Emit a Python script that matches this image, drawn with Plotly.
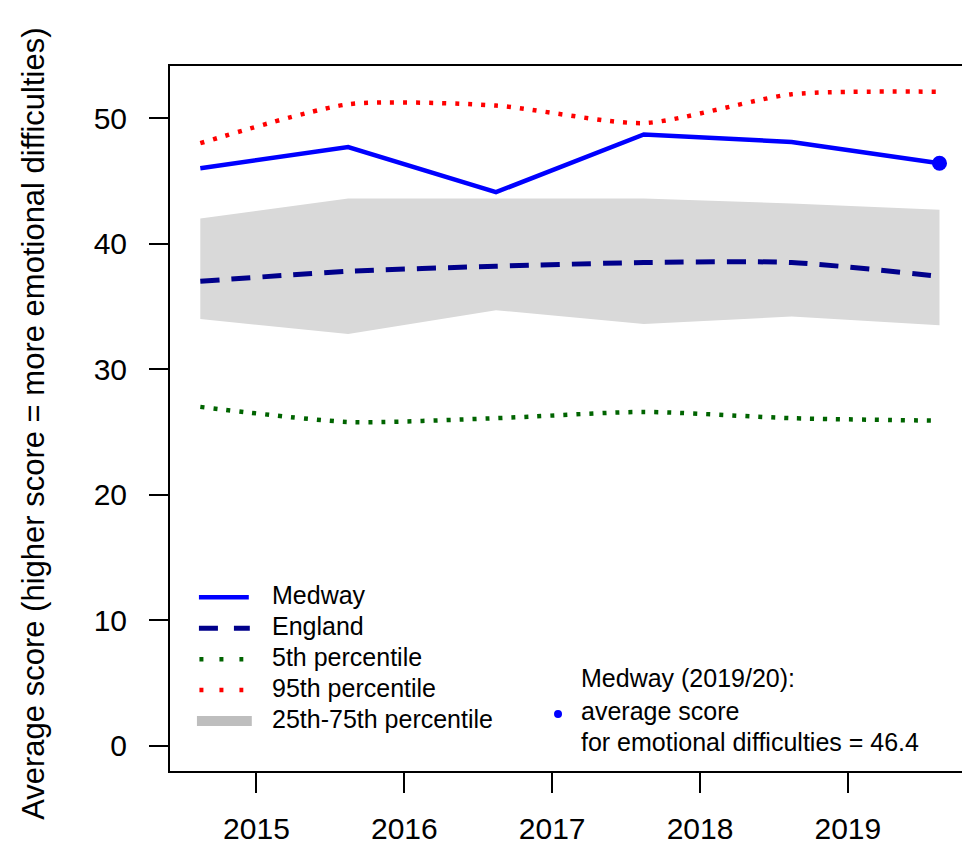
import plotly.graph_objects as go

# ---------------- data ----------------
years = [2014.62, 2015.62, 2016.62, 2017.62, 2018.62, 2019.62]
medway = [46.0, 47.7, 44.1, 48.7, 48.1, 46.4]
england = [37.0, 37.8, 38.2, 38.5, 38.5, 37.4]
p25 = [34.0, 32.8, 34.7, 33.6, 34.2, 33.5]
p75 = [42.0, 43.6, 43.6, 43.6, 43.2, 42.7]
p5 = [27.0, 25.8, 26.1, 26.6, 26.1, 25.9]
p95 = [48.0, 51.1, 51.0, 49.6, 51.9, 52.1]
x_ticks = [2015, 2016, 2017, 2018, 2019]
y_ticks = [0, 10, 20, 30, 40, 50]
legend_labels = ["Medway", "England", "5th percentile", "95th percentile", "25th-75th percentile"]
note_lines = ["Medway (2019/20):", "average score", "for emotional difficulties = 46.4"]

FONT = "Arial, Liberation Sans, sans-serif"
OFF = 8  # page body margin
W, H = 970 - OFF, 846 - OFF
ML, MR, MT, MB = 170 - OFF, 1, 66 - OFF, 74
PW, PH = W - ML - MR, H - MT - MB
SMOOTH = 0.65


def px(x):
    return (x - OFF - ML) / PW


def py(y):
    return (H - MB - (y - OFF)) / PH


fig = go.Figure()

# ribbon 25th-75th
fig.add_trace(go.Scatter(x=years, y=p25, mode="lines", line=dict(width=0, color="#D9D9D9"),
                         showlegend=False, hoverinfo="skip"))
fig.add_trace(go.Scatter(x=years, y=p75, mode="lines", line=dict(width=0, color="#D9D9D9"),
                         fill="tonexty", fillcolor="#D9D9D9", showlegend=False))

# percentiles
fig.add_trace(go.Scatter(x=years, y=p5, mode="lines",
                         line=dict(color="#006400", width=4.5, dash="4px,9px", shape="spline", smoothing=SMOOTH),
                         showlegend=False))
fig.add_trace(go.Scatter(x=years, y=p95, mode="lines",
                         line=dict(color="#FF0000", width=4.5, dash="4px,9px", shape="spline", smoothing=SMOOTH),
                         showlegend=False))
# England
fig.add_trace(go.Scatter(x=years, y=england, mode="lines",
                         line=dict(color="#00008B", width=5, dash="19px,12px", shape="spline", smoothing=SMOOTH),
                         showlegend=False))
# Medway
fig.add_trace(go.Scatter(x=years, y=medway, mode="lines",
                         line=dict(color="#0000FF", width=4.5), showlegend=False))
fig.add_trace(go.Scatter(x=[years[-1]], y=[medway[-1]], mode="markers",
                         marker=dict(color="#0000FF", size=15), showlegend=False))

shapes = []
annotations = []

# manual legend
leg_y = [598, 629, 660, 691, 722]
leg_styles = [
    dict(color="#0000FF", width=4.5, dash="solid", x0=199, x1=249),
    dict(color="#00008B", width=5, dash="19px,16px", x0=199, x1=250),
    dict(color="#006400", width=4.5, dash="4px,16px", x0=199.5, x1=243.5),
    dict(color="#FF0000", width=4.5, dash="4px,16px", x0=199.5, x1=243.5),
    dict(color="#BEBEBE", width=10, dash="solid", x0=197, x1=252),
]
for yy, st, lab in zip(leg_y, leg_styles, legend_labels):
    shapes.append(dict(type="line", xref="paper", yref="paper",
                       x0=px(st["x0"]), x1=px(st["x1"]), y0=py(yy), y1=py(yy),
                       line=dict(color=st["color"], width=st["width"], dash=st["dash"])))
    annotations.append(dict(text=lab, xref="paper", yref="paper", x=px(270), y=py(yy - 2),
                            xanchor="left", yanchor="middle", showarrow=False,
                            font=dict(family=FONT, size=25, color="black")))

# note block
note_y = [679, 712, 743]
for yy, t in zip(note_y, note_lines):
    annotations.append(dict(text=t, xref="paper", yref="paper", x=px(580), y=py(yy),
                            xanchor="left", yanchor="middle", showarrow=False,
                            font=dict(family=FONT, size=25, color="black")))
r = 4
shapes.append(dict(type="circle", xref="paper", yref="paper",
                   x0=px(559 - r), x1=px(559 + r), y0=py(715 + r), y1=py(715 - r),
                   fillcolor="#0000FF", line=dict(width=0)))

# y-axis title
annotations.append(dict(text="Average score (higher score = more emotional difficulties)",
                        xref="paper", yref="paper", x=px(33), y=py(424), textangle=-90,
                        xanchor="center", yanchor="middle", showarrow=False,
                        font=dict(family=FONT, size=31, color="black")))

fig.update_layout(
    width=W, height=H,
    margin=dict(l=ML, r=MR, t=MT, b=MB, pad=0),
    paper_bgcolor="white", plot_bgcolor="white",
    font=dict(family=FONT, color="black"),
    shapes=shapes, annotations=annotations,
    showlegend=False,
)
fig.update_xaxes(range=[2014.415, 2019.806], tickvals=x_ticks, ticktext=[str(v) for v in x_ticks],
                 ticks="outside", ticklen=20, tickwidth=2, tickcolor="black",
                 showgrid=False, zeroline=False, showline=True, linecolor="black", linewidth=2,
                 mirror=True, tickfont=dict(family=FONT, size=30, color="black"),
                 ticklabelstandoff=10)
fig.update_yaxes(range=[-2.0, 54.15], tickvals=y_ticks,
                 ticks="outside", ticklen=19, tickwidth=2, tickcolor="black",
                 showgrid=False, zeroline=False, showline=True, linecolor="black", linewidth=2,
                 mirror=True, tickfont=dict(family=FONT, size=30, color="black"),
                 ticklabelstandoff=16)

fig.write_html("out.html")
